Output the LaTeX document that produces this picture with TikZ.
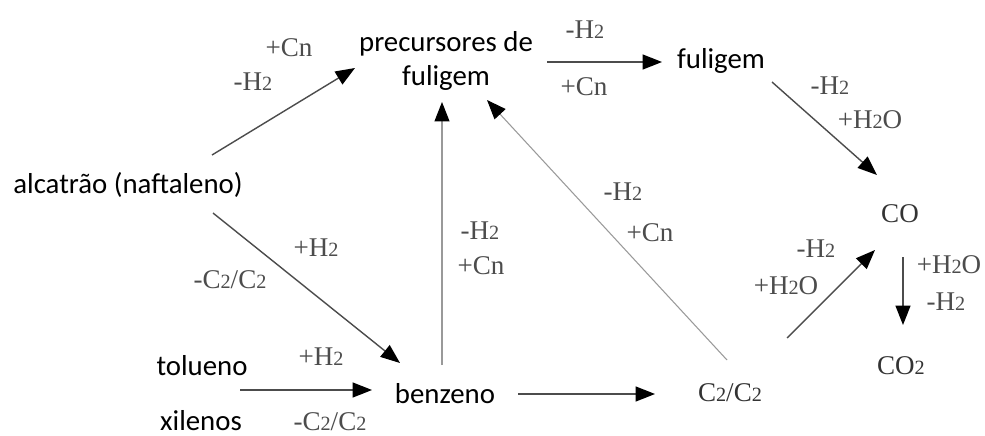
\documentclass[tikz,border=0pt]{standalone}
\usepackage{fontspec}
\setmainfont{Carlito}
\newfontfamily\timesfont{Liberation Serif}
\usetikzlibrary{arrows.meta}

% small baseline digit used in the formulas
\newcommand{\smtwo}{{\fontsize{11.5}{12}\selectfont 2}}

\tikzset{
  specie/.style={font=\fontsize{16.4}{19.8}\selectfont, inner sep=0pt},
  gas/.style={font=\timesfont\fontsize{15.4}{17}\selectfont, text=black!80, inner sep=0pt},
  cond/.style={font=\timesfont\fontsize{15.4}{17}\selectfont, text=black!70, inner sep=0pt},
  reac/.style={draw=black!70, line width=0.8pt,
    -{Triangle[length=11pt, width=8.5pt, color=black]}},
  weak/.style={reac, draw=black!40, line width=0.6pt},
}

\begin{document}
\begin{tikzpicture}[x=0.02cm, y=-0.02cm]
  \useasboundingbox (0,0) rectangle (985,436);

  \node[specie, align=center] (prec) at (446,61) {precursores de\\fuligem};
  \node[specie] (ful)  at (721,61) {fuligem};
  \node[specie] (alc)  at (128,185) {alcatrão (naftaleno)};
  \node[specie] (tol)  at (202,366) {tolueno};
  \node[specie] (xil)  at (201,421) {xilenos};
  \node[specie] (benz) at (445,394) {benzeno};
  \node[gas] (c2)  at (730,393) {C\smtwo/C\smtwo};
  \node[gas] (co)  at (900,214) {CO};
  \node[gas] (co2) at (901,366) {CO\smtwo};

  \draw[reac] ([shift={(84,-30)}]alc.center) -- ([shift={(-91,7)}]prec.center);
  \draw[reac] ([shift={(101,1)}]prec.center) -- ([shift={(-59,1)}]ful.center);
  \draw[reac] ([shift={(51,21)}]ful.center) -- ([shift={(-23,-39)}]co.center);
  \draw[reac] ([shift={(85,28)}]alc.center) -- ([shift={(-45,-31)}]benz.center);
  \draw[reac] ([shift={(38,24)}]tol.center) -- ([shift={(-73,-4)}]benz.center);
  \draw[weak] ([shift={(-3,-29)}]benz.center) -- ([shift={(-4,41)}]prec.center);
  \draw[weak] ([shift={(-3,-33)}]c2.center) -- ([shift={(41,39)}]prec.center);
  \draw[reac] ([shift={(73,0)}]benz.center) -- ([shift={(-75,1)}]c2.center);
  \draw[reac] ([shift={(57,-55)}]c2.center) -- ([shift={(-25,36)}]co.center);
  \draw[reac] ([shift={(3,43)}]co.center) -- ([shift={(2,-41)}]co2.center);

  % conditions on the arrows
  \node[cond] (l1a)  at (289,48)  {+Cn};
  \node[cond] (l1b)  at (253,82)  {-H\smtwo};
  \node[cond] (l2a)  at (585,30)  {-H\smtwo};
  \node[cond] (l2b)  at (584,87)  {+Cn};
  \node[cond] (l3a)  at (830,86)  {-H\smtwo};
  \node[cond] (l3b)  at (870,120) {+H\smtwo O};
  \node[cond] (l4a)  at (316,248) {+H\smtwo};
  \node[cond] (l4b)  at (230,280) {-C\smtwo/C\smtwo};
  \node[cond] (l5a)  at (321,357) {+H\smtwo};
  \node[cond] (l5b)  at (330,422) {-C\smtwo/C\smtwo};
  \node[cond] (l6a)  at (480,231) {-H\smtwo};
  \node[cond] (l6b)  at (481,266) {+Cn};
  \node[cond] (l7a)  at (623,192) {-H\smtwo};
  \node[cond] (l7b)  at (650,233) {+Cn};
  \node[cond] (l9a)  at (816,249) {-H\smtwo};
  \node[cond] (l9b)  at (786,286) {+H\smtwo O};
  \node[cond] (l10a) at (949,265) {+H\smtwo O};
  \node[cond] (l10b) at (946,302) {-H\smtwo};
\end{tikzpicture}
\end{document}
